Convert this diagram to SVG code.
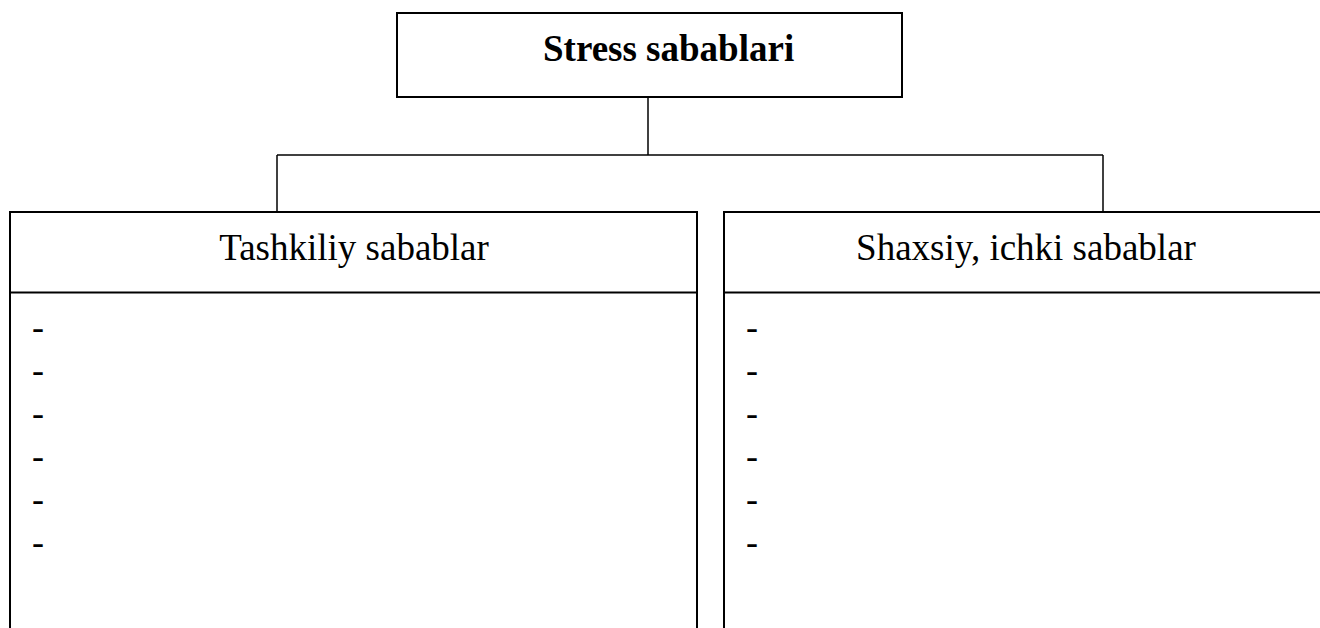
<svg xmlns="http://www.w3.org/2000/svg" width="1320" height="628" viewBox="0 0 1320 628">
<style>
.box{fill:#fff;stroke:#000;stroke-width:2}
.ln{fill:none;stroke:#000;stroke-width:1.5}
.t{font-family:"Liberation Serif","Times New Roman",serif;font-size:37px;fill:#000}
.b{font-weight:bold}
.d{font-family:"Liberation Serif","Times New Roman",serif;font-size:36px;fill:#000}
</style>
<rect width="1320" height="628" fill="#fff"/>
<g id="connectors">
<line class="ln" x1="648" y1="97" x2="648" y2="155"/>
<line class="ln" x1="277" y1="155" x2="1103" y2="155"/>
<line class="ln" x1="277" y1="155" x2="277" y2="212"/>
<line class="ln" x1="1103" y1="155" x2="1103" y2="212"/>
</g>
<g id="root">
<rect class="box" x="397" y="13" width="505" height="84"/>
<text class="t b" x="543" y="61">Stress sabablari</text>
</g>
<g id="tashkiliy">
<rect class="box" x="10" y="212" width="687" height="430"/>
<line class="box" x1="10" y1="292.5" x2="697" y2="292.5"/>
<text class="t" x="354" y="260" text-anchor="middle">Tashkiliy sabablar</text>
<text class="d" x="32" y="339">-</text>
<text class="d" x="32" y="382">-</text>
<text class="d" x="32" y="425">-</text>
<text class="d" x="32" y="468">-</text>
<text class="d" x="32" y="511">-</text>
<text class="d" x="32" y="554">-</text>
</g>
<g id="shaxsiy">
<rect class="box" x="724" y="212" width="620" height="430"/>
<line class="box" x1="724" y1="292.5" x2="1320" y2="292.5"/>
<text class="t" x="1026" y="260" text-anchor="middle">Shaxsiy, ichki sabablar</text>
<text class="d" x="746" y="339">-</text>
<text class="d" x="746" y="382">-</text>
<text class="d" x="746" y="425">-</text>
<text class="d" x="746" y="468">-</text>
<text class="d" x="746" y="511">-</text>
<text class="d" x="746" y="554">-</text>
</g>
</svg>
